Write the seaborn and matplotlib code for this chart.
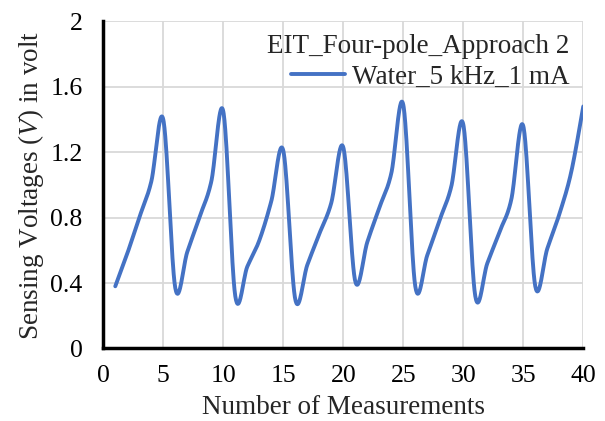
import numpy as np
import pandas as pd
import matplotlib
matplotlib.use("Agg")
import matplotlib.pyplot as plt
import seaborn as sns
from matplotlib.ticker import FuncFormatter

# ---- data ----
measurements = list(range(1, 41))
voltages = [0.38, 0.58, 0.80, 1.02, 1.40,
            0.37, 0.59, 0.80, 1.02, 1.45,
            0.32, 0.50, 0.66, 0.90, 1.21,
            0.30, 0.51, 0.70, 0.89, 1.23,
            0.41, 0.65, 0.86, 1.07, 1.49,
            0.38, 0.57, 0.78, 0.99, 1.37,
            0.32, 0.52, 0.71, 0.91, 1.36,
            0.38, 0.61, 0.82, 1.08, 1.48]
series_name = "Water_5 kHz_1 mA"
legend_title = "EIT_Four-pole_Approach 2"
x_ticks = [0, 5, 10, 15, 20, 25, 30, 35, 40]
y_ticks = [0, 0.4, 0.8, 1.2, 1.6, 2.0]


def smooth(x, y, n=30):
    """Excel-like smoothed line (cubic Bezier, Catmull-Rom control points)."""
    P = np.column_stack([x, y]).astype(float)
    m = len(P)
    out = [P[0]]
    t = np.linspace(0, 1, n + 1)[1:][:, None]
    for i in range(m - 1):
        p0 = P[i - 1] if i > 0 else P[i]
        p1, p2 = P[i], P[i + 1]
        p3 = P[i + 2] if i + 2 < m else P[i + 1]
        c1 = p1 + (p2 - p0) / 6
        c2 = p2 - (p3 - p1) / 6
        seg = ((1 - t) ** 3) * p1 + 3 * ((1 - t) ** 2) * t * c1 + 3 * (1 - t) * t ** 2 * c2 + t ** 3 * p2
        out.extend(seg)
    out = np.array(out)
    return out[:, 0], out[:, 1]


sx, sy = smooth(measurements, voltages)
df = pd.DataFrame({"x": sx, "y": sy, "s": series_name})

sns.set_theme(style="white")
plt.rcParams["font.family"] = ["Liberation Serif", "DejaVu Serif"]
plt.rcParams["mathtext.fontset"] = "custom"
plt.rcParams["mathtext.it"] = "Liberation Serif:italic"
plt.rcParams["mathtext.rm"] = "Liberation Serif"

fig = plt.figure(figsize=(6.05, 4.21), dpi=100)
ax = fig.add_axes([0.1707, 0.1724, 0.9641 - 0.1707, 0.9492 - 0.1724])

sns.lineplot(data=df, x="x", y="y", hue="s", palette=["#4472C4"],
             sort=False, estimator=None, linewidth=2.8, ax=ax)

ax.set_xlim(0, 40)
ax.set_ylim(0, 2)
ax.set_xticks(x_ticks)
ax.set_yticks(y_ticks)
ax.yaxis.set_major_formatter(FuncFormatter(lambda v, p: f"{v:g}"))
ax.grid(True, color="#d9d9d9", linewidth=1.3)
ax.set_axisbelow(True)
for s in ["top", "right"]:
    ax.spines[s].set_visible(False)
for s in ["left", "bottom"]:
    ax.spines[s].set_color("black")
    ax.spines[s].set_linewidth(2.5)
ax.tick_params(axis="both", length=0, labelsize=18.5, colors="black")
ax.tick_params(axis="x", pad=12)
ax.tick_params(axis="y", pad=15)

ax.set_xlabel("Number of Measurements", fontsize=19.5, labelpad=6)
ax.set_ylabel(r"Sensing Voltages ($\mathit{V}$) in volt", fontsize=19.5, labelpad=3)

leg = ax.legend(title=legend_title, loc="upper right", frameon=False,
                fontsize=19.5, title_fontsize=19.5, handlelength=2.0,
                handletextpad=0.25, labelspacing=0.2,
                borderaxespad=0.0, borderpad=0.3, bbox_to_anchor=(0.988, 0.985))
leg._legend_box.align = "right"

fig.savefig("out.png", dpi=100)
